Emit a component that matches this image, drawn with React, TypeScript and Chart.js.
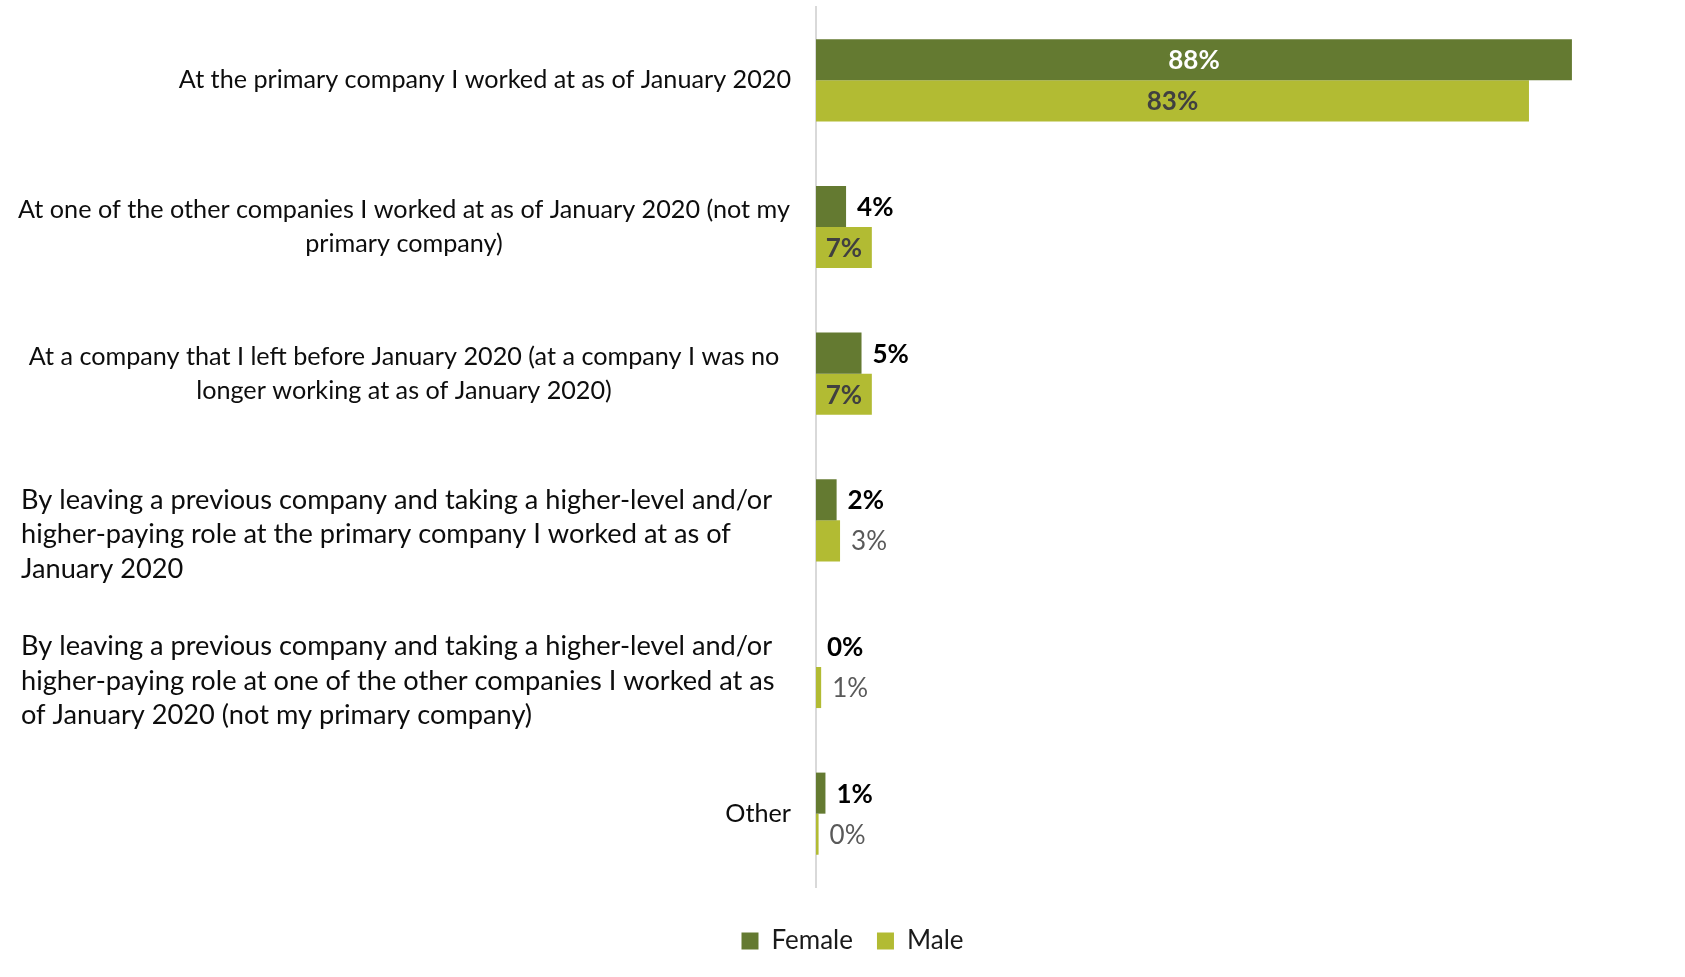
import React, { useEffect, useRef } from "react";
import { Chart, registerables } from "chart.js";

Chart.register(...registerables);

// ---- Data ----
const categoryLines: string[][] = [
  ["At the primary company I worked at as of January 2020"],
  ["At one of the other companies I worked at as of January 2020 (not my", "primary company)"],
  ["At a company that I left before January 2020 (at a company I was no", "longer working at as of January 2020)"],
  [
    "By leaving a previous company and taking a higher-level and/or",
    "higher-paying role at the primary company I worked at as of",
    "January 2020",
  ],
  [
    "By leaving a previous company and taking a higher-level and/or",
    "higher-paying role at one of the other companies I worked at as",
    "of January 2020 (not my primary company)",
  ],
  ["Other"],
];
const seriesNames = ["Female", "Male"];
const femaleValues = [88, 3.5, 5.3, 2.4, 0, 1.1];
const maleValues = [83, 6.5, 6.5, 2.8, 0.6, 0.3];

// ---- Styles ----
const FEMALE_COLOR = "#647a31";
const MALE_COLOR = "#b2bb33";
const FONT = "Lato, 'Open Sans', sans-serif";
const labelAlign = ["right", "center", "center", "left", "left", "right"];

const categoryLabelPlugin = {
  id: "categoryLabels",
  afterDraw(chart: any) {
    const ctx = chart.ctx;
    const yScale = chart.scales.y;
    const area = chart.chartArea;
    const rightX = area.left - 25;
    const leftX = 21;
    const centerX = 404;
    ctx.save();
    ctx.fillStyle = "#0d0d0d";
    ctx.textBaseline = "middle";
    categoryLines.forEach((lines, i) => {
      const align = labelAlign[i];
      const size = align === "left" ? 27.2 : 25.2;
      const lh = align === "left" ? 34.5 : 33.5;
      ctx.font = `${size}px ${FONT}`;
      const yc = yScale.getPixelForValue(i) + (align === "left" ? 14 : 0);
      const startY = yc - ((lines.length - 1) * lh) / 2;
      let x = rightX;
      if (align === "left") x = leftX;
      else if (align === "center") x = centerX;
      ctx.textAlign = align;
      lines.forEach((t, j) => ctx.fillText(t, x, startY + j * lh));
    });
    ctx.restore();
  },
};

const valueLabelPlugin = {
  id: "valueLabels",
  afterDatasetsDraw(chart: any) {
    const ctx = chart.ctx;
    ctx.save();
    ctx.textBaseline = "middle";
    chart.data.datasets.forEach((ds: any, di: number) => {
      const meta = chart.getDatasetMeta(di);
      meta.data.forEach((bar: any, i: number) => {
        const v = ds.data[i];
        const text = `${Math.round(v)}%`;
        const { x, y, base } = bar.getProps(["x", "y", "base"], true);
        const w = x - base;
        ctx.font = `bold 26px ${FONT}`;
        const tw = ctx.measureText(text).width;
        const inside = tw + 14 <= w;
        if (inside) {
          ctx.fillStyle = di === 0 ? "#ffffff" : "#404040";
          ctx.textAlign = "center";
          ctx.fillText(text, (x + base) / 2, y + 1);
        } else {
          ctx.font = di === 0 ? `bold 26px ${FONT}` : `26px ${FONT}`;
          ctx.fillStyle = di === 0 ? "#000000" : "#595959";
          ctx.textAlign = "left";
          ctx.fillText(text, Math.max(x, base) + 11, y + 1);
        }
      });
    });
    ctx.restore();
  },
};

export default function App() {
  const canvasRef = useRef<HTMLCanvasElement | null>(null);

  useEffect(() => {
    document.body.style.margin = "0";
    const canvas = canvasRef.current;
    if (!canvas) return;
    const chart = new Chart(canvas, {
      type: "bar",
      data: {
        labels: categoryLines.map((l) => l.join(" ")),
        datasets: [
          {
            label: seriesNames[0],
            data: femaleValues,
            backgroundColor: FEMALE_COLOR,
            borderWidth: 0,
            categoryPercentage: 0.56,
            barPercentage: 1,
          },
          {
            label: seriesNames[1],
            data: maleValues,
            backgroundColor: MALE_COLOR,
            borderWidth: 0,
            categoryPercentage: 0.56,
            barPercentage: 1,
          },
        ],
      },
      options: {
        indexAxis: "y",
        responsive: false,
        animation: false,
        layout: { padding: { top: 7, right: 10, bottom: 13, left: 30 } },
        scales: {
          x: {
            min: 0,
            max: 100,
            display: true,
            grid: { display: false },
            border: { display: false },
            ticks: { display: false },
            afterFit: (scale: any) => {
              scale.height = 17;
            },
          },
          y: {
            grid: { display: false },
            border: { display: true, color: "#d9d9d9", width: 2 },
            ticks: { display: false },
            afterFit: (scale: any) => {
              scale.width = 786;
            },
          },
        },
        plugins: {
          legend: {
            display: true,
            position: "bottom",
            labels: {
              boxWidth: 17,
              boxHeight: 17,
              padding: 24,
              color: "#1a1a1a",
              font: { family: FONT, size: 26 },
            },
          },
          tooltip: { enabled: false },
        },
      },
      plugins: [categoryLabelPlugin, valueLabelPlugin],
    } as any);
    return () => chart.destroy();
  }, []);

  return (
    <div style={{ width: 1685, height: 977, background: "#ffffff" }}>
      <canvas ref={canvasRef} width={1685} height={977} style={{ display: "block" }} />
    </div>
  );
}
